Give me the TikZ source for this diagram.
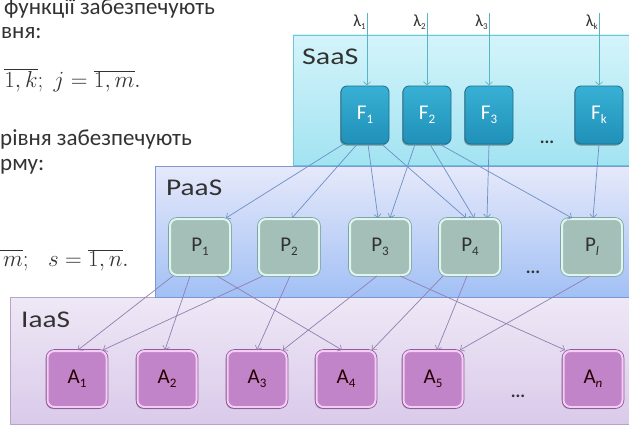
\documentclass[tikz,border=0pt]{standalone}
\usepackage{fontspec}
\setmainfont{Carlito}
\usetikzlibrary{arrows.meta,shadows}

\definecolor{txt}{HTML}{323232}
\definecolor{saastop}{HTML}{D4F4FA}
\definecolor{saasbot}{HTML}{A2E3F2}
\definecolor{saasedge}{HTML}{6CC6D8}
\definecolor{paastop}{HTML}{E6E9FA}
\definecolor{paasbot}{HTML}{A2C0F5}
\definecolor{paasedge}{HTML}{7C98D4}
\definecolor{iaastop}{HTML}{EFE8F6}
\definecolor{iaasbot}{HTML}{D9CAEA}
\definecolor{iaasedge}{HTML}{B4A4CC}
\definecolor{ftop}{HTML}{38B0D4}
\definecolor{fbot}{HTML}{2090B8}
\definecolor{fedge}{HTML}{1A6F8E}
\definecolor{pfill}{HTML}{A3BFB7}
\definecolor{pring}{HTML}{E2F4F0}
\definecolor{pedge}{HTML}{7BA7A2}
\definecolor{afill}{HTML}{C184C8}
\definecolor{aring}{HTML}{F6CCF6}
\definecolor{aedge}{HTML}{8E5E98}
\definecolor{fpcol}{HTML}{6E8EC4}
\definecolor{pacol}{HTML}{9080B0}
\definecolor{lamcol}{HTML}{58B4C4}

\newcommand{\lowidx}[1]{\raisebox{-0.35ex}{\fontsize{13}{13}\selectfont #1}}
\newcommand{\lamidx}[1]{\raisebox{-0.4ex}{\fontsize{9}{9}\selectfont #1}}

\tikzset{
  bodytext/.style={text=txt, inner sep=0pt, font=\fontsize{23}{23}\selectfont},
  mathtext/.style={text=txt, inner sep=0pt, font=\fontsize{24.88}{24.88}\selectfont},
  layerlbl/.style={text=txt, inner sep=0pt, font=\fontsize{24}{24}\selectfont},
  fbox/.style={rounded corners=6pt, minimum width=48pt, minimum height=58pt,
    draw=fedge, line width=0.8pt, top color=ftop, bottom color=fbot,
    text=white, font=\fontsize{21}{21}\selectfont, inner sep=0pt,
    drop shadow={shadow xshift=-1pt, shadow yshift=-1.5pt, opacity=0.35, fill=black}},
  pbox/.style={rounded corners=7pt, minimum width=60pt, minimum height=56pt,
    fill=pfill, draw=pring, line width=2pt,
    preaction={draw=pedge, line width=3.6pt},
    text=txt, font=\fontsize{21}{21}\selectfont, inner sep=0pt},
  abox/.style={rounded corners=7pt, minimum width=59pt, minimum height=56pt,
    fill=afill, draw=aring, line width=2pt,
    preaction={draw=aedge, line width=3.6pt},
    text=black!75!red!60!black, font=\fontsize{21}{21}\selectfont, inner sep=0pt,
    drop shadow={shadow xshift=-1.5pt, shadow yshift=-2pt, opacity=0.4, fill=aedge!70!black}},
  tip/.style={-{Straight Barb[length=3.5pt,width=7pt,line width=0.6pt]}},
  fp/.style={tip, draw=fpcol, line width=0.7pt},
  pa/.style={tip, draw=pacol, line width=0.7pt},
  lam/.style={tip, draw=lamcol, line width=0.8pt},
  lamlbl/.style={text=txt, inner sep=1pt, font=\fontsize{17}{17}\selectfont, anchor=east},
  dots/.style={text=txt, inner sep=0pt, font=\fontsize{18}{18}\selectfont\bfseries},
}

\begin{document}
\begin{tikzpicture}[x=1pt,y=-1pt]
\useasboundingbox (0,0) rectangle (629,428);
\clip (0,0) rectangle (629,428);

% ---- service layers ----
\draw[draw=iaasedge, line width=0.8pt, top color=iaastop, bottom color=iaasbot]
  (10,297) rectangle (640,424);
\draw[draw=paasedge, line width=0.8pt, top color=paastop, bottom color=paasbot]
  (155,166) rectangle (640,297);
\draw[draw=saasedge, line width=0.8pt, top color=saastop, bottom color=saasbot]
  (293,35) rectangle (640,165);

\node[layerlbl, anchor=base west] (saas) at (302,65) {\scalebox{1.25}[1]{SaaS}};
\node[layerlbl, anchor=base west] (paas) at (166,195) {\scalebox{1.22}[1]{PaaS}};
\node[layerlbl, anchor=base west] (iaas) at (21,327) {\scalebox{1.22}[1]{IaaS}};

% ---- explanatory text on the left ----
\node[bodytext, anchor=base west] (t1) at (4,15) {функції забезпечують};
\node[bodytext, anchor=base west] (t2) at (1,39) {вня:};
\node[mathtext, anchor=base east] (t3) at (141,87)
  {\scalebox{0.93}{$\overline{1,k};\; j=\overline{1,m}.$}};
\node[bodytext, anchor=base west] (t4) at (0,145) {рівня забезпечують};
\node[bodytext, anchor=base west] (t5) at (0,170) {рму:};
\node[mathtext, anchor=base east] (t6) at (129,266)
  {\scalebox{0.93}{$\overline{1,m};\enspace\, s=\overline{1,n}.$}};

% ---- boxes ----
\node[fbox] (F1) at (365,115) {F\lowidx{1}};
\node[fbox] (F2) at (427,115) {F\lowidx{2}};
\node[fbox] (F3) at (489,115) {F\lowidx{3}};
\node[fbox] (Fk) at (599,115) {F\lowidx{k}};
\node[dots] (fdots) at (547,142) {...};

\node[pbox] (P1) at (200,247) {P\lowidx{1}};
\node[pbox] (P2) at (289,247) {P\lowidx{2}};
\node[pbox] (P3) at (380,247) {P\lowidx{3}};
\node[pbox] (P4) at (470,247) {P\lowidx{4}};
\node[pbox] (Pl) at (592,247) {P\lowidx{\textit{l}}};
\node[dots] (pdots) at (533,272) {...};

\node[abox] (A1) at (77,379) {A\lowidx{1}};
\node[abox] (A2) at (167,379) {A\lowidx{2}};
\node[abox] (A3) at (257,379) {A\lowidx{3}};
\node[abox] (A4) at (346,379) {A\lowidx{4}};
\node[abox] (A5) at (433,379) {A\lowidx{5}};
\node[abox] (An) at (593,379) {A\lowidx{\textit{n}}};
\node[dots] (adots) at (518,396) {...};

% ---- incoming requests ----
\coordinate (s1) at (367,13);
\coordinate (s2) at (427,13);
\coordinate (s3) at (489,13);
\coordinate (sk) at (599,13);
\node[lamlbl] (l1) at (367,22) {λ\lamidx{1}};
\node[lamlbl] (l2) at (427,22) {λ\lamidx{2}};
\node[lamlbl] (l3) at (489,22) {λ\lamidx{3}};
\node[lamlbl] (lk) at (599,22) {λ\lamidx{k}};
\draw[lam] (s1) -- (s1 |- F1.north);
\draw[lam] (s2) -- (s2 |- F2.north);
\draw[lam] (s3) -- (s3 |- F3.north);
\draw[lam] (sk) -- (sk |- Fk.north);

% ---- SaaS -> PaaS ----
\draw[fp] ([xshift=-22pt]F1.south) -- ([xshift=26pt]P1.north);
\draw[fp] ([xshift=-8pt]F1.south) -- ([xshift=3pt]P2.north);
\draw[fp] ([xshift=3pt]F1.south) -- ([xshift=-2pt]P3.north);
\draw[fp] ([xshift=17pt]F1.south) -- ([xshift=-4pt]P4.north);
\draw[fp] ([xshift=-12pt]F2.south) -- ([xshift=10pt]P3.north);
\draw[fp] ([xshift=3pt]F2.south) -- ([xshift=4pt]P4.north);
\draw[fp] ([xshift=13pt]F2.south) -- ([xshift=-20pt]Pl.north);
\draw[fp] (F3.south) -- ([xshift=17pt]P4.north);
\draw[fp] (Fk.south) -- ([xshift=1pt]Pl.north);

% ---- PaaS -> IaaS ----
\draw[pa] ([xshift=-27pt]P1.south) -- ([xshift=1pt]A1.north);
\draw[pa] ([xshift=-10pt]P1.south) -- ([xshift=-2pt]A2.north);
\draw[pa] ([xshift=17pt]P1.south) -- ([xshift=-4pt]A4.north);
\draw[pa] ([xshift=-26pt]P2.south) -- ([xshift=26pt]A1.north);
\draw[pa] ([xshift=1pt]P2.south) -- (A3.north);
\draw[pa] ([xshift=-3pt]P3.south) -- ([xshift=26pt]A3.north);
\draw[pa] ([xshift=20pt]P3.south) -- ([xshift=-28pt]An.north);
\draw[pa] ([xshift=-27pt]P4.south) -- ([xshift=26pt]A4.north);
\draw[pa] ([xshift=-3pt]P4.south) -- ([xshift=4pt]A5.north);
\draw[pa] ([xshift=-2pt]Pl.south) -- ([xshift=27pt]A5.north);
\end{tikzpicture}
\end{document}
